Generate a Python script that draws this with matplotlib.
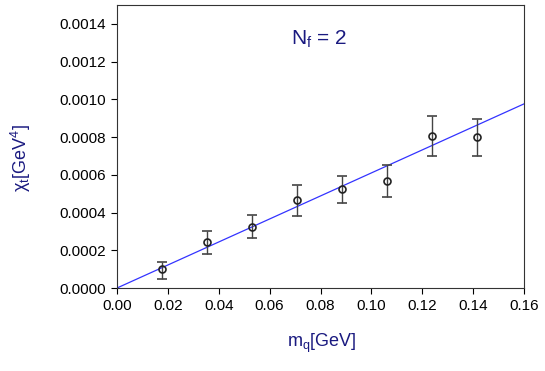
import matplotlib
matplotlib.use("Agg")
import matplotlib.pyplot as plt
import numpy as np

plt.rcParams['font.family'] = ['Liberation Sans', 'DejaVu Sans']

mq = [0.0177, 0.0354, 0.0531, 0.0709, 0.0886, 0.1063, 0.1240, 0.1417]
chi = [0.000100, 0.000242, 0.000325, 0.000466, 0.000523, 0.000567, 0.000806, 0.000799]
err_hi = [0.000140, 0.000304, 0.000387, 0.000548, 0.000594, 0.000650, 0.000912, 0.000896]
err_lo = [0.000050, 0.000179, 0.000263, 0.000380, 0.000450, 0.000484, 0.000700, 0.000701]
fit_x = [0.0, 0.16]
slope = 0.0061

fig = plt.figure(figsize=(5.45, 3.71), dpi=100)
ax = fig.add_axes([0.2147, 0.2237, 0.7468, 0.7628])

chi_a = np.array(chi)
yerr = [chi_a - np.array(err_lo), np.array(err_hi) - chi_a]
ax.plot(fit_x, [slope * x for x in fit_x], color='#3333ff', lw=0.9, zorder=2)
ax.errorbar(mq, chi, yerr=yerr, fmt='o', mfc='none', mec='#222222', ms=5, mew=1.2,
            ecolor='#444444', elinewidth=1.0, capsize=3.5, capthick=1.0, zorder=3)

ax.set_xlim(0, 0.16)
ax.set_ylim(0, 0.0015)
ax.set_xticks(np.arange(0, 0.161, 0.02))
ax.set_xticklabels([f"{v:.2f}" for v in np.arange(0, 0.161, 0.02)])
ax.set_yticks(np.arange(0, 0.00141, 0.0002))
ax.set_yticklabels([f"{v:.4f}" for v in np.arange(0, 0.00141, 0.0002)])
ax.tick_params(direction='out', labelsize=11, length=4, width=0.8, pad=4)
for s in ax.spines.values():
    s.set_linewidth(0.8)
    s.set_color('#333333')

navy = '#1a1a80'
ax.set_xlabel(r'm$_\mathregular{q}$[GeV]', fontsize=13, color=navy)
ax.set_ylabel('χ' + r'$_\mathregular{t}$[GeV$^\mathregular{4}$]', fontsize=13, color=navy)
ax.xaxis.set_label_coords(0.504, -0.194)
ax.yaxis.set_label_coords(-0.236, 0.459)
ax.xaxis.label.set_va('center')
ax.yaxis.label.set_va('center')
ax.text(0.0795, 0.00132, r'N$_\mathregular{f}$ = 2', fontsize=15, color=navy, ha='center', va='center')

fig.savefig('out.png', dpi=100)
